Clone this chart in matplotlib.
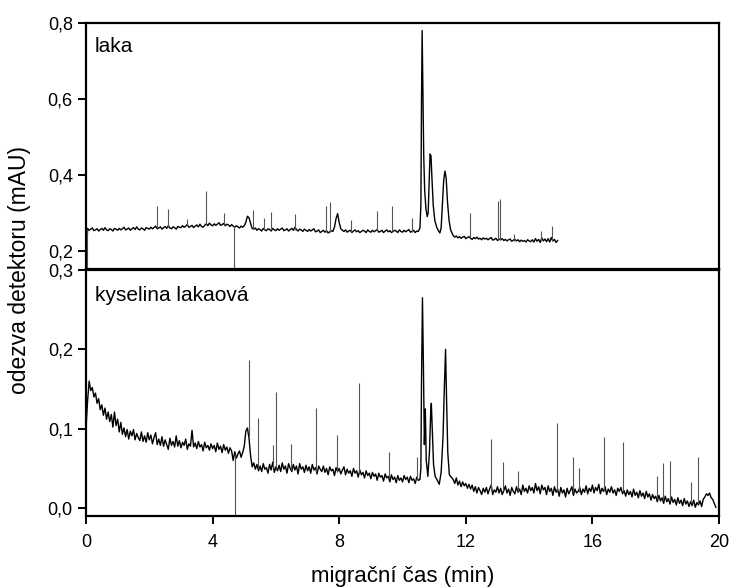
import numpy as np
import matplotlib
matplotlib.use("Agg")
import matplotlib.pyplot as plt

plt.rcParams["font.family"] = ["Liberation Sans", "DejaVu Sans"]

# ── data: laka (top panel), baseline read every 0.05 min ─────────────────────

# 0.00 .. 10.50 min
laka_base1 = [
    0.150, 0.259, 0.254, 0.257, 0.260, 0.253, 0.255, 0.258, 0.252, 0.256,
    0.259, 0.254, 0.261, 0.255, 0.253, 0.258, 0.256, 0.252, 0.259, 0.257,
    0.254, 0.259, 0.255, 0.258, 0.262, 0.255, 0.257, 0.260, 0.254, 0.258,
    0.261, 0.256, 0.263, 0.257, 0.255, 0.260, 0.258, 0.254, 0.261, 0.259,
    0.257, 0.262, 0.258, 0.261, 0.265, 0.258, 0.260, 0.263, 0.257, 0.261,
    0.264, 0.259, 0.266, 0.260, 0.258, 0.263, 0.261, 0.257, 0.264, 0.262,
    0.261, 0.266, 0.262, 0.265, 0.269, 0.262, 0.264, 0.267, 0.261, 0.265,
    0.268, 0.263, 0.270, 0.264, 0.262, 0.267, 0.271, 0.266, 0.273, 0.268,
    0.266, 0.271, 0.267, 0.270, 0.274, 0.267, 0.269, 0.272, 0.266, 0.270,
    0.268, 0.264, 0.269, 0.265, 0.262, 0.266, 0.263, 0.260, 0.265, 0.262,
    0.266, 0.275, 0.291, 0.287, 0.272, 0.259, 0.257, 0.260, 0.254, 0.258,
    0.256, 0.252, 0.259, 0.255, 0.253, 0.258, 0.256, 0.252, 0.259, 0.255,
    0.253, 0.258, 0.254, 0.257, 0.260, 0.253, 0.255, 0.258, 0.252, 0.256,
    0.259, 0.254, 0.262, 0.256, 0.252, 0.257, 0.255, 0.251, 0.257, 0.254,
    0.251, 0.256, 0.252, 0.255, 0.258, 0.250, 0.252, 0.255, 0.248, 0.251,
    0.254, 0.249, 0.253, 0.247, 0.250, 0.253, 0.251, 0.262, 0.285, 0.298,
    0.274, 0.258, 0.254, 0.251, 0.255, 0.249, 0.252, 0.254, 0.248, 0.252,
    0.255, 0.250, 0.253, 0.248, 0.251, 0.254, 0.252, 0.248, 0.255, 0.251,
    0.249, 0.254, 0.250, 0.253, 0.256, 0.249, 0.251, 0.254, 0.248, 0.252,
    0.255, 0.250, 0.253, 0.248, 0.251, 0.254, 0.252, 0.248, 0.255, 0.251,
    0.249, 0.254, 0.250, 0.253, 0.256, 0.249, 0.251, 0.254, 0.248, 0.252,
    0.251]
laka_peak_x = [10.55, 10.58, 10.60, 10.62, 10.64, 10.67, 10.70, 10.74, 10.78,
               10.81, 10.84, 10.87, 10.90, 10.93, 10.97, 11.02, 11.08, 11.14,
               11.18, 11.22, 11.26, 11.30, 11.34, 11.38, 11.42, 11.47, 11.52]
laka_peak_y = [0.260, 0.320, 0.600, 0.780, 0.650, 0.450, 0.360, 0.310, 0.290,
               0.300, 0.380, 0.455, 0.450, 0.390, 0.320, 0.280, 0.262, 0.252,
               0.247, 0.260, 0.320, 0.385, 0.410, 0.390, 0.330, 0.280, 0.255]
# 11.60 .. 14.90 min
laka_base2 = [
    0.240, 0.236, 0.239, 0.234, 0.237, 0.233, 0.236, 0.238, 0.232, 0.235,
    0.237, 0.233, 0.230, 0.235, 0.232, 0.236, 0.231, 0.233, 0.229, 0.234,
    0.231, 0.233, 0.229, 0.232, 0.235, 0.228, 0.230, 0.233, 0.227, 0.231,
    0.229, 0.232, 0.227, 0.230, 0.226, 0.229, 0.231, 0.225, 0.228, 0.230,
    0.226, 0.229, 0.224, 0.228, 0.225, 0.227, 0.223, 0.229, 0.226, 0.224,
    0.229, 0.223, 0.232, 0.225, 0.230, 0.222, 0.234, 0.226, 0.231, 0.224,
    0.232, 0.223, 0.235, 0.226, 0.230, 0.222, 0.227]
laka_spike_x = [0.03, 2.25, 2.60, 3.20, 3.79, 4.36, 4.68, 5.28, 5.62, 5.84,
                6.61, 7.58, 7.71, 8.36, 9.18, 9.66, 10.31, 12.14, 13.03,
                13.09, 13.53, 14.37, 14.71]
laka_spike_lo = [0.10, 0.262, 0.263, 0.265, 0.270, 0.270, 0.10, 0.258, 0.256,
                 0.255, 0.255, 0.250, 0.250, 0.250, 0.251, 0.252, 0.250,
                 0.235, 0.229, 0.229, 0.226, 0.226, 0.226]
laka_spike_hi = [0.258, 0.318, 0.309, 0.285, 0.357, 0.300, 0.265, 0.307, 0.286,
                 0.303, 0.297, 0.318, 0.329, 0.281, 0.305, 0.318, 0.286,
                 0.299, 0.331, 0.336, 0.245, 0.253, 0.266]

# ── data: kyselina lakaová (bottom panel) ────────────────────────────────────

# 0.00 .. 10.50 min
kys_base1 = [
    0.100, 0.135, 0.160, 0.148, 0.152, 0.140, 0.145, 0.132, 0.138, 0.124,
    0.130, 0.117, 0.126, 0.112, 0.121, 0.109, 0.118, 0.102, 0.121, 0.104,
    0.112, 0.096, 0.108, 0.093, 0.101, 0.090, 0.099, 0.087, 0.097, 0.091,
    0.099, 0.086, 0.094, 0.089, 0.085, 0.096, 0.084, 0.091, 0.083, 0.095,
    0.086, 0.092, 0.081, 0.089, 0.095, 0.080, 0.087, 0.079, 0.090, 0.078,
    0.086, 0.080, 0.074, 0.088, 0.079, 0.084, 0.077, 0.091, 0.078, 0.085,
    0.076, 0.083, 0.079, 0.087, 0.074, 0.081, 0.078, 0.098, 0.077, 0.082,
    0.075, 0.084, 0.077, 0.080, 0.072, 0.083, 0.076, 0.079, 0.073, 0.081,
    0.075, 0.079, 0.071, 0.082, 0.074, 0.078, 0.070, 0.080, 0.073, 0.077,
    0.069, 0.076, 0.072, 0.060, 0.071, 0.063, 0.068, 0.072, 0.064, 0.070,
    0.078, 0.097, 0.101, 0.088, 0.066, 0.052, 0.057, 0.049, 0.055, 0.047,
    0.053, 0.046, 0.056, 0.049, 0.051, 0.044, 0.055, 0.048, 0.058, 0.045,
    0.052, 0.047, 0.054, 0.046, 0.057, 0.049, 0.053, 0.044, 0.056, 0.050,
    0.046, 0.055, 0.048, 0.053, 0.043, 0.056, 0.049, 0.052, 0.045, 0.054,
    0.047, 0.052, 0.044, 0.055, 0.048, 0.051, 0.043, 0.053, 0.049, 0.046,
    0.053, 0.045, 0.050, 0.042, 0.052, 0.047, 0.049, 0.041, 0.051, 0.046,
    0.050, 0.043, 0.048, 0.052, 0.042, 0.049, 0.044, 0.047, 0.040, 0.050,
    0.044, 0.047, 0.039, 0.048, 0.042, 0.045, 0.038, 0.047, 0.041, 0.044,
    0.037, 0.045, 0.040, 0.043, 0.035, 0.044, 0.039, 0.041, 0.034, 0.043,
    0.038, 0.040, 0.033, 0.042, 0.036, 0.039, 0.032, 0.041, 0.035, 0.038,
    0.033, 0.041, 0.036, 0.039, 0.032, 0.040, 0.035, 0.037, 0.031, 0.039,
    0.035]
kys_peak_x = [10.55, 10.58, 10.60, 10.63, 10.66, 10.69, 10.72, 10.75, 10.80,
              10.85, 10.89, 10.91, 10.94, 10.98, 11.03, 11.10, 11.16, 11.22,
              11.28, 11.32, 11.36, 11.39, 11.43, 11.48]
kys_peak_y = [0.036, 0.050, 0.160, 0.265, 0.180, 0.080, 0.125, 0.060, 0.040,
              0.070, 0.120, 0.132, 0.100, 0.055, 0.040, 0.035, 0.030, 0.045,
              0.090, 0.150, 0.200, 0.140, 0.070, 0.042]
# 11.60 .. 19.90 min
kys_base2 = [
    0.036, 0.031, 0.038, 0.029, 0.034, 0.027, 0.033, 0.028, 0.031, 0.025,
    0.030, 0.024, 0.029, 0.021, 0.027, 0.019, 0.026, 0.022, 0.017, 0.025,
    0.020, 0.026, 0.018, 0.024, 0.029, 0.017, 0.023, 0.020, 0.027, 0.019,
    0.025, 0.017, 0.022, 0.028, 0.019, 0.024, 0.016, 0.026, 0.021, 0.018,
    0.027, 0.020, 0.024, 0.017, 0.029, 0.021, 0.025, 0.019, 0.028, 0.022,
    0.026, 0.019, 0.031, 0.022, 0.027, 0.018, 0.029, 0.023, 0.026, 0.017,
    0.028, 0.021, 0.025, 0.016, 0.027, 0.020, 0.024, 0.015, 0.026, 0.019,
    0.023, 0.014, 0.025, 0.018, 0.022, 0.027, 0.016, 0.024, 0.019, 0.021,
    0.026, 0.017, 0.024, 0.020, 0.028, 0.018, 0.025, 0.021, 0.029, 0.019,
    0.026, 0.022, 0.030, 0.018, 0.025, 0.021, 0.027, 0.017, 0.024, 0.020,
    0.027, 0.019, 0.023, 0.016, 0.025, 0.021, 0.026, 0.018, 0.022, 0.015,
    0.023, 0.017, 0.021, 0.014, 0.024, 0.016, 0.020, 0.013, 0.022, 0.015,
    0.019, 0.012, 0.021, 0.014, 0.018, 0.010, 0.017, 0.012, 0.015, 0.008,
    0.016, 0.009, 0.013, 0.006, 0.015, 0.008, 0.012, 0.005, 0.014, 0.007,
    0.011, 0.004, 0.013, 0.006, 0.010, 0.003, 0.012, 0.005, 0.009, 0.002,
    0.008, 0.003, 0.010, 0.001, 0.007, 0.004, 0.009, 0.002, 0.011, 0.014,
    0.018, 0.016, 0.019, 0.013, 0.011, 0.006, 0.001]
kys_spike_x = [4.72, 5.15, 5.44, 5.92, 6.01, 6.48, 7.28, 7.93, 8.62, 9.57,
               10.45, 12.78, 13.19, 13.66, 14.87, 15.38, 15.59, 16.35, 16.97,
               18.03, 18.24, 18.45, 19.10, 19.35]
kys_spike_lo = [-0.02, 0.090, 0.050, 0.050, 0.050, 0.048, 0.046, 0.045, 0.043,
                0.038, 0.036, 0.024, 0.023, 0.022, 0.020, 0.020, 0.020, 0.022,
                0.022, 0.012, 0.010, 0.010, 0.006, 0.006]
kys_spike_hi = [0.068, 0.186, 0.1135, 0.079, 0.146, 0.081, 0.1265, 0.092,
                0.158, 0.0706, 0.065, 0.0875, 0.0585, 0.047, 0.1077, 0.065,
                0.050, 0.0897, 0.083, 0.040, 0.0563, 0.059, 0.0325, 0.065]

x_ticks = [0, 4, 8, 12, 16, 20]

# ── assemble traces (baseline samples are 0.05 min apart) ────────────────────

def trace(base1, peak_x, peak_y, base2):
    x1 = np.round(np.arange(len(base1)) * 0.05, 2)
    x2 = np.round(11.6 + np.arange(len(base2)) * 0.05, 2)
    x = np.concatenate([x1, peak_x, x2])
    y = np.concatenate([base1, peak_y, base2])
    return x, y

laka_x, laka_y = trace(laka_base1, laka_peak_x, laka_peak_y, laka_base2)
kys_x, kys_y = trace(kys_base1, kys_peak_x, kys_peak_y, kys_base2)

# ── figure ───────────────────────────────────────────────────────────────────

fig = plt.figure(figsize=(7.3, 5.88), dpi=100)
ax1 = fig.add_axes([0.1178, 0.5425, 0.8672, 0.4184])
ax2 = fig.add_axes([0.1178, 0.1224, 0.8672, 0.4184])

for ax, x, y, sx, slo, shi in [
        (ax1, laka_x, laka_y, laka_spike_x, laka_spike_lo, laka_spike_hi),
        (ax2, kys_x, kys_y, kys_spike_x, kys_spike_lo, kys_spike_hi)]:
    ax.plot(x, y, color="black", lw=1.0)
    ax.vlines(sx, slo, shi, color="#555555", lw=0.8)
    ax.set_xlim(0, 20)
    for s in ax.spines.values():
        s.set_linewidth(1.6)
    ax.tick_params(axis="y", direction="out", length=6, width=1.4,
                   labelsize=13, right=False)

ax1.set_ylim(0.152, 0.8)
ax1.set_yticks([0.2, 0.4, 0.6, 0.8])
ax1.set_yticklabels(["0,2", "0,4", "0,6", "0,8"])
ax1.tick_params(axis="x", bottom=False, top=False, labelbottom=False)
ax1.text(0.014, 0.945, "laka", transform=ax1.transAxes, fontsize=15,
         va="top", ha="left")

ax2.set_ylim(-0.01, 0.3)
ax2.set_yticks([0.0, 0.1, 0.2, 0.3])
ax2.set_yticklabels(["0,0", "0,1", "0,2", "0,3"])
ax2.set_xticks(x_ticks)
ax2.set_xticklabels([str(t) for t in x_ticks])
ax2.tick_params(axis="x", direction="out", length=6, width=1.4,
                labelsize=13, top=False, pad=7)
ax2.text(0.014, 0.935, "kyselina lakaová", transform=ax2.transAxes,
         fontsize=15, va="top", ha="left")

ax2.set_xlabel("migrační čas (min)", fontsize=16, labelpad=11)
fig.text(0.027, 0.54, "odezva detektoru (mAU)", rotation=90, fontsize=16.5,
         va="center", ha="center")

plt.savefig("out.png", dpi=100)
